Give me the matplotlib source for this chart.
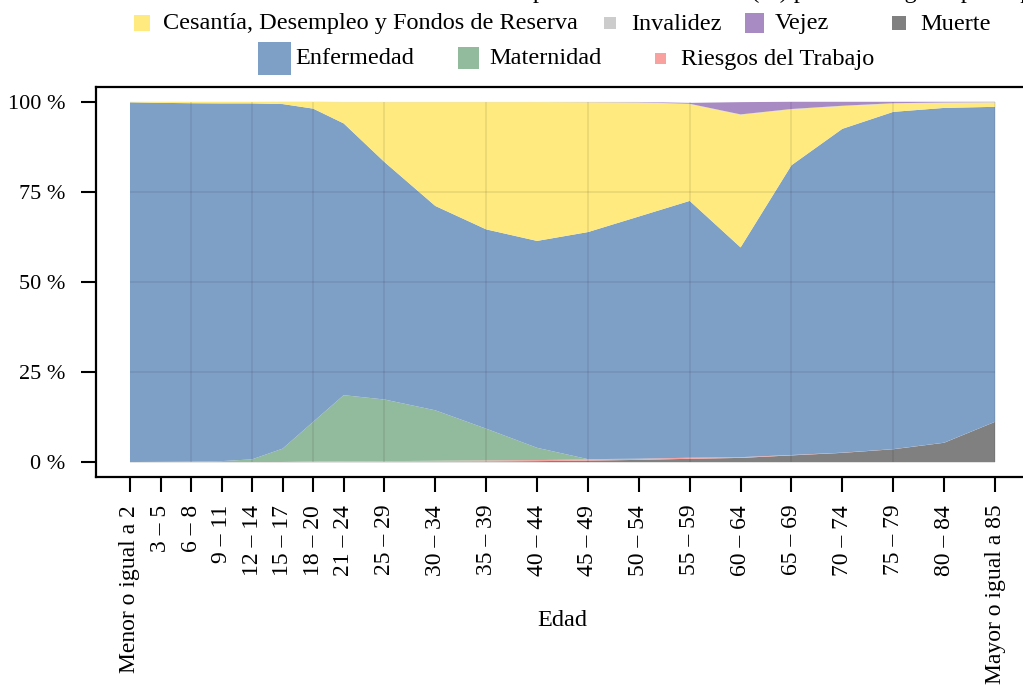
import matplotlib
matplotlib.use("Agg")
import matplotlib.pyplot as plt
from matplotlib.patches import Rectangle

# datos (porcentaje por tipo de prestacion, por grupo de edad)
edades = [0, 3, 6, 9, 12, 15, 18, 21, 25, 30, 35, 40, 45, 50, 55, 60, 65, 70, 75, 80, 85]
etiquetas = ["Menor o igual a 2", "3 – 5", "6 – 8", "9 – 11", "12 – 14", "15 – 17",
             "18 – 20", "21 – 24", "25 – 29", "30 – 34", "35 – 39", "40 – 44",
             "45 – 49", "50 – 54", "55 – 59", "60 – 64", "65 – 69", "70 – 74",
             "75 – 79", "80 – 84", "Mayor o igual a 85"]

muerte = [0.05, 0.05, 0.05, 0.05, 0.05, 0.05, 0.1, 0.1, 0.1, 0.15, 0.2, 0.3, 0.45, 0.65,
          0.95, 1.2, 1.9, 2.6, 3.6, 5.4, 11.2]
riesgos = [0, 0, 0, 0, 0, 0.02, 0.1, 0.15, 0.2, 0.25, 0.3, 0.3, 0.3, 0.3, 0.3, 0.2, 0.1,
           0.05, 0.03, 0.02, 0.01]
maternidad = [0, 0.05, 0.1, 0.25, 0.75, 3.7, 11.0, 18.35, 17.1, 14.0, 8.8, 3.4, 0.1, 0.02,
              0, 0, 0, 0, 0, 0, 0]
enfermedad = [99.8, 99.6, 99.45, 99.25, 98.75, 95.6, 86.9, 75.4, 65.9, 56.7, 55.3, 57.4,
              63.0, 67.2, 71.25, 58.2, 80.4, 89.85, 93.57, 92.88, 87.39]
cesantia = [0.15, 0.3, 0.4, 0.45, 0.45, 0.6, 1.85, 5.9, 16.6, 28.8, 35.3, 38.5, 36.0, 31.6,
            26.85, 36.8, 15.5, 6.3, 2.3, 1.4, 1.2]
invalidez = [0, 0, 0, 0, 0, 0.03, 0.05, 0.05, 0.05, 0.05, 0.05, 0.05, 0.05, 0.08, 0.1, 0.1,
             0.1, 0.1, 0.1, 0.1, 0.1]
vejez = [0, 0, 0, 0, 0, 0, 0, 0, 0, 0, 0, 0, 0.05, 0.1, 0.25, 3.4, 2.0, 1.1, 0.4, 0.2, 0.1]

c_muerte = "#808080"
c_riesgos = "#F9A19F"
c_maternidad = "#92BA9C"
c_enfermedad = "#7FA0C6"
c_cesantia = "#FEEA7E"
c_invalidez = "#CCCCCC"
c_vejez = "#A98BC4"

plt.rcParams["font.family"] = ["Liberation Serif", "DejaVu Serif"]
FS_YTICK = 16
FS_XTICK = 17
FS_LEY = 17.5

W, H = 1023, 686
fig = plt.figure(figsize=(W / 100, H / 100), dpi=100)


def fx(px):
    return px / W


def fy(py):
    return 1 - py / H


# ejes: izquierda 96 px, derecha 1029 px (fuera de la imagen), arriba 87, abajo 477
ax = fig.add_axes([fx(96), fy(477), fx(1029) - fx(96), fy(87) - fy(477)])

ax.stackplot(edades, muerte, riesgos, maternidad, enfermedad, cesantia, invalidez, vejez,
             colors=[c_muerte, c_riesgos, c_maternidad, c_enfermedad, c_cesantia,
                     c_invalidez, c_vejez], linewidth=0, zorder=1)

# grid solo dentro de la zona de datos
xgrid = edades[2::2]
ax.vlines(xgrid, 0, 100, colors="black", alpha=0.08, linewidth=1.3, zorder=2)
ax.hlines([25, 50, 75], 0, 85, colors="black", alpha=0.08, linewidth=1.3, zorder=2)

ax.set_xlim(-3.34, 88.34)
ax.set_ylim(-4.1, 104.1)

ax.set_yticks([0, 25, 50, 75, 100])
ax.set_yticklabels(["0 %", "25 %", "50 %", "75 %", "100 %"], fontsize=FS_YTICK)
ax.set_xticks(edades)
ax.set_xticklabels(etiquetas, rotation=90, fontsize=FS_XTICK, va="top", ha="center")
ax.tick_params(axis="both", direction="out", length=11, width=1.5, color="black")
ax.tick_params(axis="y", pad=11)
ax.tick_params(axis="x", pad=9)
for s in ax.spines.values():
    s.set_linewidth(1.6)

fig.text(fx(562), fy(620), "Edad", fontsize=FS_LEY, ha="center", va="center")

# titulo (cortado en la imagen original)
fig.text(fx(533), fy(-2), "prestaciones del IESS (%) por edad según tipo de prestación",
         fontsize=FS_LEY, ha="left", va="baseline")

# leyenda manual
ley_labels = ["Cesantía, Desempleo y Fondos de Reserva", "Invalidez", "Vejez", "Muerte",
              "Enfermedad", "Maternidad", "Riesgos del Trabajo"]
ley_colors = [c_cesantia, c_invalidez, c_vejez, c_muerte, c_enfermedad, c_maternidad, c_riesgos]
ley_size = [16, 12, 19, 14, 33, 21, 11]
ley_x = [142, 610, 754, 899, 274, 468, 660]
ley_y = [23, 23, 23, 23, 58, 58, 58]
for lab, col, sz, x, y in zip(ley_labels, ley_colors, ley_size, ley_x, ley_y):
    fig.add_artist(Rectangle((fx(x - sz / 2), fy(y + sz / 2)), sz / W, sz / H,
                             transform=fig.transFigure, facecolor=col, edgecolor="none"))
    fig.text(fx(x + 21), fy(y + 1), lab, fontsize=FS_LEY, ha="left", va="center")

fig.savefig("out.png", dpi=100)
